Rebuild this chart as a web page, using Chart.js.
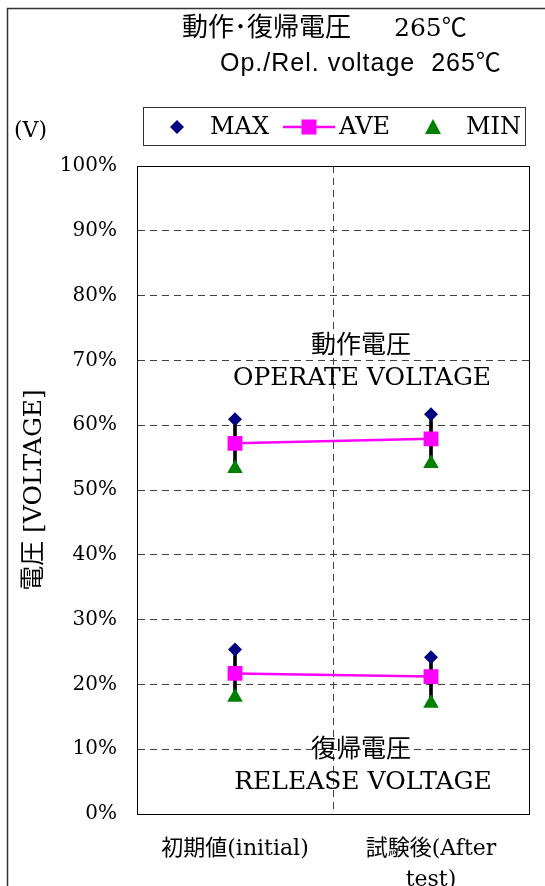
<!DOCTYPE html>
<html>
<head>
<meta charset="utf-8">
<script src="https://cdn.jsdelivr.net/npm/chart.js@4"></script>
<style>
  html, body { margin: 0; padding: 0; background: #fff; }
  #wrap { width: 545px; height: 886px; position: relative; }
</style>
</head>
<body>
<div id="wrap"><canvas id="chart"></canvas></div>
<script>
// Chart data
const categories = [['初期値(initial)'], ['試験後(After', 'test)']];
const operateMax = [60.9, 61.7];
const operateAve = [57.2, 57.9];
const operateMin = [53.3, 54.1];
const releaseMax = [25.4, 24.2];
const releaseAve = [21.7, 21.2];
const releaseMin = [18.0, 17.1];
const yTickValues = [0, 10, 20, 30, 40, 50, 60, 70, 80, 90, 100];

const SERIF = '"DejaVu Serif", "Noto Sans CJK JP", serif';
const SANS = '"Liberation Sans", "Noto Sans CJK JP", sans-serif';
const CJK = '"Noto Sans CJK JP", sans-serif';
const NAVY = '#000080';
const MAGENTA = '#FF00FF';
const GREEN = '#008000';

// Range bars (MIN to MAX)
const toRange = (lo, hi) => lo.map((v, i) => [v, hi[i]]);

// Frame, titles, legend and annotation texts
const decorPlugin = {
    id: 'decor',
    afterDraw(chart) {
        const ctx = chart.ctx;
        const a = chart.chartArea;
        const px = v => Math.round(v - 0.5) + 0.5;
        ctx.save();

        // outer frame
        ctx.strokeStyle = '#333';
        ctx.lineWidth = 1.5;
        ctx.strokeRect(7.5, 8.5, 600, 1000);

        // plot border
        ctx.strokeStyle = '#000';
        ctx.lineWidth = 1;
        const l = px(a.left), r = px(a.right), t = px(a.top), b = px(a.bottom);
        ctx.strokeRect(l, t, r - l, b - t);

        // titles
        ctx.fillStyle = '#000';
        ctx.textAlign = 'left';
        ctx.textBaseline = 'alphabetic';
        ctx.font = '26px ' + CJK;
        ctx.fillText('動作･復帰電圧', 182, 36);
        ctx.font = '25px ' + SERIF;
        ctx.fillText('265', 394, 36);
        const w265 = ctx.measureText('265').width;
        ctx.font = '25px ' + CJK;
        ctx.fillText('℃', 394 + w265, 36);

        ctx.textBaseline = 'middle';
        ctx.font = '25px ' + SANS;
        ctx.letterSpacing = '1px';
        ctx.fillText('Op./Rel. voltage  265℃', 220, 64);
        ctx.letterSpacing = '0px';

        // unit
        ctx.font = '22px ' + SERIF;
        ctx.fillText('(V)', 14, 131);

        // legend
        ctx.strokeStyle = '#333';
        ctx.lineWidth = 1;
        ctx.strokeRect(143.5, 107.5, 382, 38);
        const ly = 127;
        ctx.fillStyle = NAVY;
        ctx.beginPath();
        ctx.moveTo(177, ly - 7); ctx.lineTo(184, ly); ctx.lineTo(177, ly + 7); ctx.lineTo(170, ly);
        ctx.closePath(); ctx.fill();
        ctx.strokeStyle = MAGENTA;
        ctx.lineWidth = 2.5;
        ctx.beginPath(); ctx.moveTo(283, ly); ctx.lineTo(335, ly); ctx.stroke();
        ctx.fillStyle = MAGENTA;
        ctx.fillRect(309 - 7.5, ly - 7.5, 15, 15);
        ctx.fillStyle = GREEN;
        ctx.beginPath();
        ctx.moveTo(433, ly - 8); ctx.lineTo(441, ly + 7); ctx.lineTo(425, ly + 7);
        ctx.closePath(); ctx.fill();
        ctx.fillStyle = '#000';
        ctx.font = '24px ' + SERIF;
        ctx.fillText('MAX', 210, ly + 1);
        ctx.fillText('AVE', 339, ly + 1);
        ctx.fillText('MIN', 466, ly + 1);

        // annotation texts inside the plot
        ctx.textAlign = 'center';
        ctx.font = '25px ' + SERIF;
        ctx.fillText('動作電圧', 361, 346);
        ctx.fillText('OPERATE VOLTAGE', 362, 378);
        ctx.fillText('復帰電圧', 361, 750);
        ctx.fillText('RELEASE VOLTAGE', 363, 782);
        ctx.restore();
    }
};

const ctx = document.getElementById('chart').getContext('2d');
const chart = new Chart(ctx, {
    type: 'bar',
    data: {
        labels: categories,
        datasets: [
            { type: 'line', label: 'MAX', data: operateMax, showLine: false, pointStyle: 'rectRot', pointRadius: 7, pointBackgroundColor: NAVY, pointBorderWidth: 0, order: 0 },
            { type: 'line', label: 'MAX', data: releaseMax, showLine: false, pointStyle: 'rectRot', pointRadius: 7, pointBackgroundColor: NAVY, pointBorderWidth: 0, order: 0 },
            { type: 'line', label: 'MIN', data: operateMin, showLine: false, pointStyle: 'triangle', pointRadius: 9, pointBackgroundColor: GREEN, pointBorderWidth: 0, order: 0 },
            { type: 'line', label: 'MIN', data: releaseMin, showLine: false, pointStyle: 'triangle', pointRadius: 9, pointBackgroundColor: GREEN, pointBorderWidth: 0, order: 0 },
            { type: 'line', label: 'AVE', data: operateAve, borderColor: MAGENTA, borderWidth: 2.5, pointStyle: 'rect', pointRadius: 10.5, pointBackgroundColor: MAGENTA, pointBorderWidth: 0, order: 1 },
            { type: 'line', label: 'AVE', data: releaseAve, borderColor: MAGENTA, borderWidth: 2.5, pointStyle: 'rect', pointRadius: 10.5, pointBackgroundColor: MAGENTA, pointBorderWidth: 0, order: 1 },
            { label: 'range', data: toRange(operateMin, operateMax), backgroundColor: '#000', barThickness: 3, grouped: false, order: 2 },
            { label: 'range', data: toRange(releaseMin, releaseMax), backgroundColor: '#000', barThickness: 3, grouped: false, order: 2 }
        ]
    },
    options: {
        responsive: true,
        maintainAspectRatio: false,
        animation: false,
        layout: { padding: { top: 166, right: 16, left: 0, bottom: 0 } },
        plugins: {
            legend: { display: false },
            title: { display: false },
            tooltip: { enabled: false }
        },
        scales: {
            x: {
                offset: true,
                grid: { offset: true, color: '#404040', lineWidth: 1, drawTicks: false },
                border: { display: true, color: '#000', dash: [7, 5] },
                ticks: { color: '#000', font: { family: SERIF, size: 22, lineHeight: 1.4 }, padding: 20, maxRotation: 0 },
                afterFit(scale) { scale.height = 72; }
            },
            y: {
                min: 0,
                max: 100,
                afterBuildTicks(scale) { scale.ticks = yTickValues.map(v => ({ value: v })); },
                grid: { color: '#404040', lineWidth: 1, drawTicks: false },
                border: { display: true, color: '#000', dash: [7, 5] },
                ticks: { color: '#000', font: { family: SERIF, size: 20 }, padding: 20, callback: v => v + '%' },
                title: { display: true, text: '電圧 [VOLTAGE]', color: '#000', font: { family: SERIF, size: 25 }, padding: { top: 19, bottom: 0 } },
                afterFit(scale) { scale.width = 137; }
            }
        }
    },
    plugins: [decorPlugin]
});
</script>
</body>
</html>
